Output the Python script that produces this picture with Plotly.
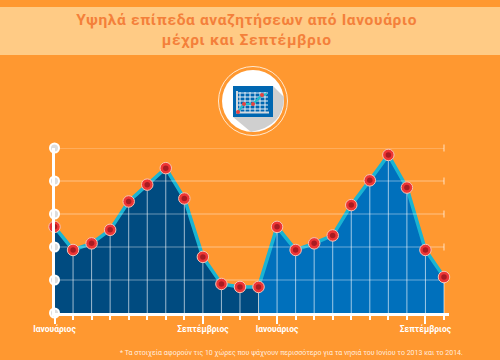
import plotly.graph_objects as go

period_a = [0, 1, 2, 3, 4, 5, 6, 7, 8, 9, 10, 11]
values_a = [2.61, 1.91, 2.11, 2.52, 3.38, 3.89, 4.39, 3.47, 1.70, 0.88, 0.79, 0.79]
period_b = [11, 12, 13, 14, 15, 16, 17, 18, 19, 20, 21]
values_b = [0.79, 2.61, 1.91, 2.11, 2.35, 3.27, 4.02, 4.79, 3.80, 1.91, 1.09]
y_levels = [0, 1, 2, 3, 4, 5]
label_positions = [0, 8, 12, 20]
label_texts = ["Ιανουάριος", "Σεπτέμβριος", "Ιανουάριος", "Σεπτέμβριος"]
minor_positions = [1, 2, 3, 4, 5, 6, 7, 9, 10, 11, 13, 14, 15, 16, 17, 18, 19, 21]
title_text = "Υψηλά επίπεδα αναζητήσεων από Ιανουάριο<br>μέχρι και Σεπτέμβριο"
note_text = "* Τα στοιχεία αφορούν τις 10 χώρες που ψάχνουν περισσότερο για τα νησιά του Ιονίου το 2013 και το 2014."

W, H = 500, 360
ORANGE = "#FF9830"
WHITE = "#FFFFFF"


def px(x):
    return x / W


def py(y):
    return 1 - y / H


def rect(x0, y0, x1, y1, fill):
    return dict(type="rect", xref="paper", yref="paper", x0=px(x0), x1=px(x1), y0=py(y0), y1=py(y1),
                fillcolor=fill, line_width=0, layer="below")


def seg(x0, y0, x1, y1, color, width):
    return dict(type="line", xref="paper", yref="paper", x0=px(x0), x1=px(x1), y0=py(y0), y1=py(y1),
                line=dict(color=color, width=width), layer="below")


def circ(cx, cy, r, fill, line_color=None, line_width=0):
    return dict(type="circle", xref="paper", yref="paper", x0=px(cx - r), x1=px(cx + r), y0=py(cy - r), y1=py(cy + r),
                fillcolor=fill, line=dict(color=line_color or fill, width=line_width), layer="below")


shapes = [rect(0, 7, 500, 55, "#FFCB85")]
shapes.append(circ(253, 101, 34.5, "rgba(0,0,0,0)", "#FFE9D0", 1))
shapes.append(circ(253, 101, 31, WHITE))
shadow = (f"M {px(273)} {py(86)} L {px(284)} {py(97)} Q {px(284)} {py(126)} {px(251)} {py(132)} "
          f"L {px(233)} {py(117)} Z")
shapes.append(dict(type="path", path=shadow, xref="paper", yref="paper", fillcolor="#CFCFCF", line_width=0, layer="below"))
shapes.append(rect(233, 86, 273, 117, "#0067B1"))
for gx in range(240, 270, 5):
    shapes.append(seg(gx, 92, gx, 112, "#E8F0F6", 1))
for gy in range(93, 113, 4):
    shapes.append(seg(238, gy, 268, gy, "#E8F0F6", 1))
shapes.append(seg(237, 91, 237, 113, "#D5D9DD", 2))
shapes.append(seg(236, 112.5, 269, 112.5, "#D5D9DD", 2))
icon_line = [(238, 112), (244, 104), (253, 104), (262, 95), (267, 94)]
for (a, b), (c, d) in zip(icon_line, icon_line[1:]):
    shapes.append(seg(a, b, c, d, "#1FC0CC", 2))
for cx, cy in icon_line[:-1]:
    shapes.append(circ(cx, cy, 2, "#E8423F"))

fig = go.Figure()


def area(x, y, fill):
    fig.add_trace(go.Scatter(x=x, y=y, mode="lines", fill="tozeroy", fillcolor=fill,
                             line=dict(color="#1AB4D2", width=3.5), cliponaxis=False, hoverinfo="skip"))


area(period_a, values_a, "#004B80")
area(period_b, values_b, "#0070BC")

gx, gy = [], []
for level in y_levels[1:]:
    gx += [0, 21, None]
    gy += [level, level, None]
fig.add_trace(go.Scatter(x=gx, y=gy, mode="lines", line=dict(color="rgba(255,255,255,0.42)", width=1),
                         cliponaxis=False, hoverinfo="skip"))
fig.add_trace(go.Scatter(x=[21] * 5, y=y_levels[1:], mode="markers", cliponaxis=False, hoverinfo="skip",
                         marker=dict(symbol="line-ns", size=5, line=dict(color="rgba(255,255,255,0.7)", width=1))))

all_x = period_a + period_b[1:]
all_y = values_a + values_b[1:]
fig.add_trace(go.Scatter(x=all_x, y=all_y, mode="markers", marker=dict(size=1, color="rgba(0,0,0,0)"),
                         error_y=dict(type="data", symmetric=False, array=[0] * len(all_y), arrayminus=all_y,
                                      color="rgba(255,255,255,0.62)", thickness=1, width=0),
                         cliponaxis=False, hoverinfo="skip"))
fig.add_trace(go.Scatter(x=[0] * 6, y=y_levels, mode="markers", cliponaxis=False, hoverinfo="skip",
                         marker=dict(size=9, color="#DDDDDD", line=dict(color=WHITE, width=2))))
fig.add_trace(go.Scatter(x=all_x, y=all_y, mode="markers", cliponaxis=False, hoverinfo="skip",
                         marker=dict(size=11.5, color="#EE3535", line=dict(color="#F7C4B4", width=1))))
fig.add_trace(go.Scatter(x=all_x, y=all_y, mode="markers", cliponaxis=False, hoverinfo="skip",
                         marker=dict(size=5.5, color="#A81C22")))

fig.update_layout(
    width=W, height=H, margin=dict(l=0, r=0, t=0, b=0, autoexpand=False), showlegend=False,
    paper_bgcolor=ORANGE, plot_bgcolor="rgba(0,0,0,0)", shapes=shapes,
    xaxis=dict(domain=[px(54.5), px(449)], range=[0, 21.27], showgrid=False, zeroline=False,
               showline=True, linecolor=WHITE, linewidth=3, tickmode="array",
               tickvals=label_positions, ticktext=label_texts, ticks="outside", ticklen=8, tickwidth=2,
               ticklabelstandoff=-2,
               tickcolor=WHITE, tickfont=dict(family="Roboto", size=8.5, color=WHITE, weight=700),
               minor=dict(tickmode="array", tickvals=minor_positions, ticks="outside", ticklen=4, tickwidth=2, tickcolor=WHITE)),
    yaxis=dict(domain=[py(313), py(148)], range=[0, 5], showgrid=False, zeroline=False, showticklabels=False,
               showline=True, linecolor=WHITE, linewidth=3, ticks=""),
    annotations=[
        dict(text=title_text, xref="paper", yref="paper", x=px(247), y=py(30), showarrow=False,
             xanchor="center", yanchor="middle", align="center",
             font=dict(family="Roboto", size=15.5, color="#F4803A", weight=700)),
        dict(text=note_text, xref="paper", yref="paper", x=px(465), y=py(352), showarrow=False,
             xanchor="right", yanchor="middle", font=dict(family="Roboto", size=7, color="rgba(255,255,255,0.85)")),
    ],
)
post = """
document.body.style.margin='0';
var t=document.querySelectorAll('.annotation-text')[0];
if(t){t.style.letterSpacing='0.65px';}
"""
fig.write_html("out.html", config=dict(displayModeBar=False), post_script=post)
